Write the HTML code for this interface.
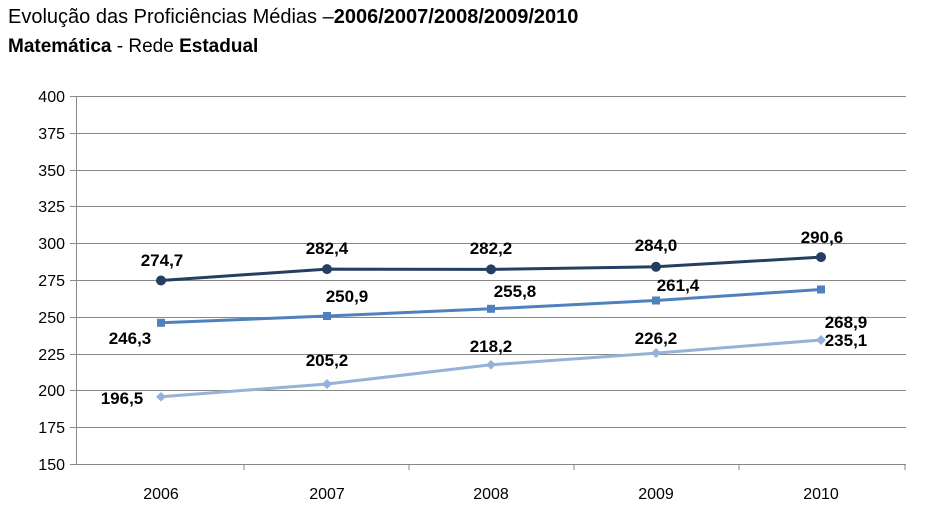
<!DOCTYPE html>
<html><head><meta charset="utf-8"><style>
body{margin:0;background:#fff;}
svg{display:block;font-family:"Liberation Sans",sans-serif;}
</style></head><body>
<svg width="936" height="525" viewBox="0 0 936 525">
<text x="8" y="23" font-size="20" fill="#000">Evolução das Proficiências Médias –<tspan font-weight="bold">2006/2007/2008/2009/2010</tspan></text>
<text x="8" y="52" font-size="19" fill="#000"><tspan font-weight="bold">Matemática</tspan> - Rede <tspan font-weight="bold">Estadual</tspan></text>
<g stroke="#888" stroke-width="1">
<line x1="70" y1="96.5" x2="906" y2="96.5"/>
<line x1="70" y1="133.5" x2="906" y2="133.5"/>
<line x1="70" y1="170.5" x2="906" y2="170.5"/>
<line x1="70" y1="206.5" x2="906" y2="206.5"/>
<line x1="70" y1="243.5" x2="906" y2="243.5"/>
<line x1="70" y1="280.5" x2="906" y2="280.5"/>
<line x1="70" y1="317.5" x2="906" y2="317.5"/>
<line x1="70" y1="354.5" x2="906" y2="354.5"/>
<line x1="70" y1="390.5" x2="906" y2="390.5"/>
<line x1="70" y1="427.5" x2="906" y2="427.5"/>
<line x1="70" y1="464.5" x2="906" y2="464.5"/>
<line x1="76.5" y1="96" x2="76.5" y2="464.5"/>
<line x1="244" y1="464.5" x2="244" y2="470"/>
<line x1="409" y1="464.5" x2="409" y2="470"/>
<line x1="574" y1="464.5" x2="574" y2="470"/>
<line x1="739" y1="464.5" x2="739" y2="470"/>
<line x1="905" y1="464.5" x2="905" y2="470"/>
</g>
<g font-size="16" fill="#000" text-anchor="end">
<text x="65" y="102">400</text><text x="65" y="139">375</text><text x="65" y="176">350</text><text x="65" y="212">325</text><text x="65" y="249">300</text><text x="65" y="286">275</text><text x="65" y="323">250</text><text x="65" y="360">225</text><text x="65" y="396">200</text><text x="65" y="433">175</text><text x="65" y="470">150</text>
</g>
<g font-size="16" fill="#000" text-anchor="middle">
<text x="161" y="499">2006</text><text x="327" y="499">2007</text><text x="491" y="499">2008</text><text x="656" y="499">2009</text><text x="821" y="499">2010</text>
</g>
<polyline fill="none" stroke="#95b3d7" stroke-width="3" points="161,396.8 327,384 491,364.8 656,353.1 821,340"/>
<g fill="#95b3d7">
<polygon points="161,392 166,396.8 161,401.6 156,396.8"/><polygon points="327,379 332,384 327,389 322,384"/><polygon points="491,360 496,364.8 491,369.6 486,364.8"/><polygon points="656,348 661,353 656,358 651,353"/><polygon points="821,335 826,340 821,345 816,340"/>
</g>
<polyline fill="none" stroke="#4f81bd" stroke-width="3" points="161,322.8 327,316 491,308.8 656,300.5 821,289.5"/>
<g fill="#4f81bd">
<rect x="157" y="318.8" width="8" height="8"/><rect x="323" y="312" width="8" height="8"/><rect x="487" y="304.8" width="8" height="8"/><rect x="652" y="296.5" width="8" height="8"/><rect x="817" y="285.5" width="8" height="8"/>
</g>
<polyline fill="none" stroke="#243f60" stroke-width="3" points="161,280.5 327,269.1 491,269.4 656,266.8 821,257.1"/>
<g fill="#243f60">
<circle cx="161" cy="280.5" r="5"/><circle cx="327" cy="269.1" r="5"/><circle cx="491" cy="269.4" r="5"/><circle cx="656" cy="266.8" r="5"/><circle cx="821" cy="257.1" r="5"/>
</g>
<g font-size="17" font-weight="bold" fill="#000" text-anchor="middle">
<text x="162" y="266">274,7</text><text x="327" y="254">282,4</text><text x="491" y="254">282,2</text><text x="656" y="251">284,0</text><text x="822" y="243">290,6</text>
<text x="347" y="302">250,9</text><text x="515" y="297">255,8</text><text x="678" y="291">261,4</text><text x="846" y="328">268,9</text><text x="130" y="344">246,3</text>
<text x="122" y="404">196,5</text><text x="327" y="366">205,2</text><text x="491" y="352">218,2</text><text x="656" y="344">226,2</text><text x="846" y="346">235,1</text>
</g>
</svg>
</body></html>
